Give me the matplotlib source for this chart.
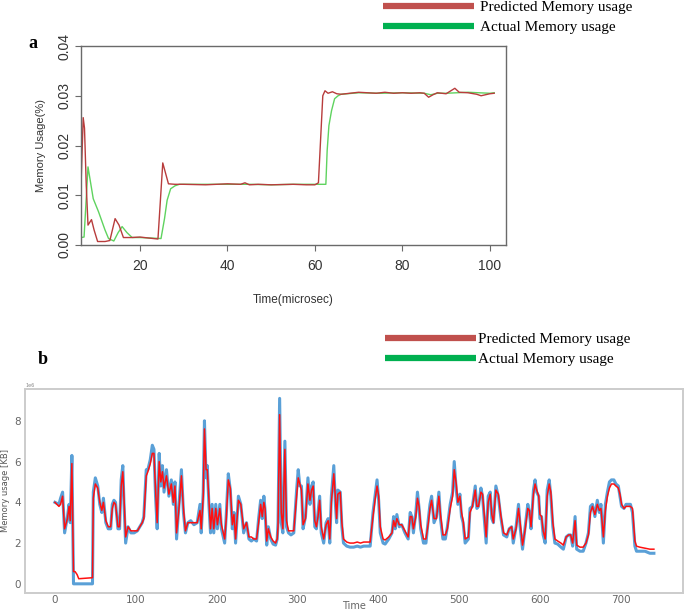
import matplotlib.pyplot as plt
from matplotlib.lines import Line2D

# ---- panel a: memory usage (%) vs time (microsec) ----
t_pred_a = [6.5, 7.0, 7.3, 7.7, 8.1, 8.9, 9.5, 10.3, 12.0, 13.1, 14.3, 15.2, 16.2, 18, 20, 22, 24.1,
            25.2, 26.5, 28, 30, 35, 40, 43, 44, 45, 47, 50, 55, 58, 60, 60.8, 61.8, 62.3, 63, 64, 65,
            66, 68, 70, 72, 74, 76, 78, 80, 82, 84, 85, 86, 87, 88, 90, 92, 93, 95, 97, 98, 100, 101]
pred_a = [0.0117, 0.0256, 0.0235, 0.012, 0.0040, 0.0051, 0.0030, 0.0007, 0.0007, 0.0009, 0.0053,
          0.0040, 0.0015, 0.0015, 0.0016, 0.0014, 0.0012, 0.0165, 0.0123, 0.0122, 0.0122, 0.0121,
          0.0123, 0.0122, 0.0125, 0.0121, 0.0122, 0.0121, 0.0122, 0.0121, 0.0121, 0.0125, 0.0300,
          0.0310, 0.0305, 0.0308, 0.0304, 0.0303, 0.0305, 0.0307, 0.0306, 0.0305, 0.0307, 0.0305,
          0.0306, 0.0305, 0.0306, 0.0305, 0.0297, 0.0302, 0.0306, 0.0304, 0.0315, 0.0307, 0.0306,
          0.0303, 0.0300, 0.0304, 0.0305]

t_act_a = [6.5, 7.2, 8.1, 9.3, 10.5, 12, 12.8, 14, 15, 15.9, 17, 18.2, 20, 24.8, 25.6, 26.2, 27,
           28, 29, 35, 40, 45, 50, 55, 60, 62.5, 62.8, 63.2, 63.8, 64.5, 65.3, 66, 70, 75, 80, 85,
           86.5, 88, 90, 95, 100, 101]
act_a = [0.0015, 0.0016, 0.0157, 0.0093, 0.0067, 0.0030, 0.0013, 0.0008, 0.0025, 0.0037, 0.0025,
         0.0015, 0.0015, 0.0013, 0.0053, 0.0090, 0.0113, 0.0119, 0.0122, 0.0122, 0.0122, 0.0122,
         0.0121, 0.0122, 0.0122, 0.0122, 0.0190, 0.0240, 0.0270, 0.0294, 0.0300, 0.0303, 0.0306,
         0.0305, 0.0306, 0.0305, 0.0302, 0.0305, 0.0305, 0.0307, 0.0305, 0.0306]

# ---- panel b: memory usage [KB] (x1e6) vs time ----
t_b = [0, 5, 7, 9.5, 12, 15.5, 17.5, 19, 21, 23, 25, 27.5, 29.5, 46.5, 47.5, 50, 53, 55.5, 58, 60,
       63, 66, 69, 71, 73, 75, 78, 80, 82, 84, 85.5, 87.5, 90.5, 94, 98, 102, 105, 108, 110, 113,
       115, 118, 120.5, 122.5, 124.5, 126.5, 129, 131, 133, 135, 138, 141, 144, 146.5, 148.5,
       150.5, 153.5, 156.5, 159, 161.5, 164.5, 168, 172, 176, 179.5, 181, 183.5, 185, 187, 188.5,
       190.5, 192.5, 194.5, 196.5, 199, 201, 204, 206, 210, 212, 214.5, 217, 219.5, 221.5, 223.5,
       227, 230, 233.5, 237, 240, 243, 246, 249.5, 252, 254.5, 256.5, 258.5, 260, 262, 264, 267,
       270, 273, 275, 276, 278, 280, 282, 284.5, 286.5, 289, 292, 295.5, 299, 301, 303, 305, 307,
       310, 313, 315.5, 317.5, 319.5, 321.5, 323.5, 325.5, 327.5, 329.5, 332.5, 335.5, 338, 340,
       342, 345, 347, 348.5, 350, 353, 355, 357, 361, 365, 369.5, 374, 378, 382, 386, 390, 393.5,
       396, 398.5, 400.5, 402.5, 406, 408.5, 413, 417, 419, 421, 423, 426, 429, 433, 437, 439.5,
       441.5, 443.5, 446.5, 448.5, 450.5, 452.5, 456, 459, 462, 464, 466, 469, 472, 475, 477, 480,
       483, 485.5, 489, 492, 494, 496.5, 498.5, 501, 503, 505, 507.5, 511.5, 513.5, 516.5, 520,
       522, 524, 527, 529, 531.5, 533.5, 536, 538.5, 540.5, 542.5, 545.5, 548.5, 551.5, 555, 559,
       562, 565, 567, 570.5, 573.5, 575.5, 578.5, 581.5, 585, 587, 589, 592, 594, 596, 598.5, 600,
       602, 604, 606.5, 609, 611.5, 613.5, 616, 618.5, 622, 626, 629, 632.5, 635.5, 638, 640.5,
       643.5, 645.5, 649.5, 653.5, 657, 660, 662.5, 665, 668, 671, 673.5, 675.5, 678.5, 681,
       683.5, 686, 688.5, 691.5, 694, 697, 699, 701, 704, 706.5, 709.5, 712, 714.5, 717.5, 719.5,
       723.5, 730, 736, 741]
actual_b = [4.0, 3.9, 4.2, 4.5, 2.5, 3.3, 3.9, 3.0, 6.3, 0.0, 0.0, 0.0, 0.0, 0.0, 4.5, 5.2, 4.8, 3.9,
            3.5, 4.2, 3.0, 2.7, 2.7, 3.9, 4.1, 4.0, 2.7, 2.7, 5.1, 5.8, 3.9, 2.0, 2.8, 2.5, 2.5, 2.6,
            2.8, 3.0, 3.3, 5.6, 5.6, 6.1, 6.8, 6.6, 4.3, 2.7, 6.4, 4.8, 5.8, 4.5, 5.6, 4.3, 5.1, 3.9,
            5.0, 2.2, 3.9, 5.6, 3.5, 2.5, 3.0, 3.1, 2.9, 3.0, 3.9, 2.5, 4.5, 8.0, 5.2, 5.8, 3.9, 2.5,
            3.9, 2.5, 3.9, 2.7, 3.9, 2.7, 2.0, 3.4, 5.4, 4.6, 2.7, 3.5, 2.0, 4.3, 3.9, 2.5, 3.0, 2.2,
            2.1, 2.2, 2.1, 3.2, 4.1, 3.2, 4.3, 3.6, 1.9, 2.8, 2.2, 1.95, 1.9, 2.2, 3.0, 9.1, 3.0, 2.5,
            7.0, 2.8, 2.5, 2.4, 2.5, 4.6, 5.6, 4.8, 4.8, 2.7, 3.3, 5.2, 3.9, 4.8, 5.0, 2.8, 2.7, 3.5,
            4.3, 2.5, 2.0, 3.0, 3.2, 2.0, 4.3, 5.8, 3.9, 3.0, 4.6, 4.5, 2.8, 2.0, 1.85, 1.8, 1.8, 1.85,
            1.8, 1.85, 1.85, 1.85, 3.5, 4.3, 5.1, 4.1, 2.5, 2.0, 1.95, 2.2, 2.5, 3.3, 2.7, 3.4, 2.8,
            2.9, 2.5, 2.2, 3.5, 3.3, 2.5, 3.5, 4.5, 3.7, 2.7, 2.0, 2.0, 3.2, 3.9, 4.3, 3.0, 3.3, 4.5,
            3.2, 2.2, 2.2, 2.8, 3.9, 4.5, 6.0, 4.6, 3.9, 4.4, 3.3, 3.0, 2.0, 2.2, 3.7, 3.8, 4.8, 3.7,
            3.8, 4.7, 4.3, 3.0, 2.0, 4.3, 4.5, 3.2, 3.0, 4.8, 4.3, 3.3, 2.4, 2.3, 2.7, 2.8, 2.0, 2.8,
            3.9, 2.8, 1.7, 2.7, 3.9, 3.5, 2.7, 4.6, 5.1, 4.5, 4.3, 3.2, 3.3, 2.4, 2.0, 4.6, 5.1, 4.3,
            2.8, 2.0, 1.95, 1.8, 1.7, 2.3, 2.4, 2.4, 1.85, 3.3, 1.7, 1.6, 1.6, 2.0, 2.5, 3.8, 3.9, 3.3,
            4.1, 3.5, 3.9, 2.0, 3.9, 4.5, 5.0, 5.1, 5.1, 4.9, 4.8, 4.3, 3.8, 3.7, 3.9, 3.9, 3.9, 3.5,
            1.85, 1.6, 1.6, 1.6, 1.5, 1.5]
pred_b = [4.0, 3.8, 3.9, 4.3, 2.7, 3.2, 3.8, 3.1, 5.9, 0.6, 0.6, 0.45, 0.25, 0.3, 4.2, 4.9, 4.7, 4.0,
          3.6, 4.0, 3.1, 2.8, 2.8, 3.7, 4.0, 3.9, 2.8, 2.8, 4.8, 5.5, 4.2, 2.3, 2.8, 2.6, 2.6, 2.6,
          2.8, 3.0, 3.2, 5.3, 5.5, 5.9, 6.4, 6.4, 4.6, 3.0, 6.0, 5.0, 5.5, 4.7, 5.3, 4.4, 4.9, 4.0,
          4.8, 2.5, 3.7, 5.3, 3.7, 2.6, 3.0, 3.0, 3.0, 3.0, 3.6, 2.7, 4.3, 7.6, 5.6, 5.6, 4.1, 2.7,
          3.7, 2.7, 3.7, 2.9, 3.7, 2.9, 2.2, 3.2, 5.1, 4.7, 2.9, 3.4, 2.2, 4.1, 3.9, 2.7, 3.0, 2.3,
          2.3, 2.2, 2.2, 3.0, 3.9, 3.3, 4.0, 3.7, 2.1, 2.7, 2.3, 2.1, 2.0, 2.2, 2.8, 8.3, 3.5, 2.7,
          6.6, 3.1, 2.6, 2.6, 2.6, 4.3, 5.2, 4.9, 4.6, 2.9, 3.2, 4.9, 4.1, 4.6, 4.8, 3.1, 2.8, 3.3,
          4.1, 2.8, 2.2, 2.9, 3.1, 2.2, 4.0, 5.4, 4.2, 3.2, 4.4, 4.5, 3.0, 2.2, 2.05, 2.0, 2.0, 2.05,
          2.0, 2.05, 2.05, 2.05, 3.3, 4.1, 4.8, 4.3, 2.8, 2.2, 2.15, 2.3, 2.5, 3.1, 2.8, 3.2, 2.9,
          2.9, 2.6, 2.3, 3.3, 3.3, 2.7, 3.3, 4.2, 3.8, 2.9, 2.2, 2.2, 3.0, 3.7, 4.1, 3.2, 3.2, 4.3,
          3.4, 2.4, 2.4, 2.7, 3.7, 4.3, 5.6, 4.9, 4.0, 4.3, 3.5, 3.1, 2.2, 2.3, 3.5, 3.8, 4.6, 3.8,
          3.8, 4.5, 4.4, 3.2, 2.3, 4.0, 4.4, 3.4, 3.0, 4.6, 4.4, 3.4, 2.5, 2.4, 2.7, 2.8, 2.2, 2.7,
          3.7, 3.0, 1.9, 2.6, 3.7, 3.6, 2.8, 4.4, 4.9, 4.6, 4.3, 3.4, 3.3, 2.6, 2.2, 4.3, 4.9, 4.5,
          3.0, 2.2, 2.1, 2.0, 1.9, 2.3, 2.4, 2.4, 2.0, 3.1, 1.9, 1.8, 1.8, 2.0, 2.4, 3.5, 3.8, 3.4,
          3.9, 3.6, 3.7, 2.3, 3.6, 4.3, 4.7, 4.9, 4.9, 4.8, 4.7, 4.4, 3.9, 3.7, 3.8, 3.8, 3.8, 3.7,
          2.1, 1.85, 1.8, 1.75, 1.7, 1.7]

fig = plt.figure(figsize=(6.85, 6.11), dpi=100)
W, H = 685.0, 611.0

def fx(px):
    return px / W

def fy(py):
    return 1 - py / H

# legend bars + labels (drawn in figure coords, like the pasted-in key of the source)
legend_red = '#c0504d'
legend_green = '#00b050'
serif = ['Liberation Serif', 'DejaVu Serif']
for y_red, y_green, x0, x1, xt in [(6, 26, 383, 474, 480), (338, 358, 385, 476, 478)]:
    fig.add_artist(Line2D([fx(x0), fx(x1)], [fy(y_red)] * 2, color=legend_red, lw=4.5,
                          solid_capstyle='butt'))
    fig.add_artist(Line2D([fx(x0), fx(x1)], [fy(y_green)] * 2, color=legend_green, lw=4.5,
                          solid_capstyle='butt'))
    fig.text(fx(xt), fy(y_red + 1.5), 'Predicted Memory usage', family=serif, fontsize=11,
             va='center', ha='left')
    fig.text(fx(xt), fy(y_green + 1), 'Actual Memory usage', family=serif, fontsize=11,
             va='center', ha='left')

fig.text(fx(33), fy(44), 'a', family=serif, fontsize=13, fontweight='bold', va='center', ha='center')
fig.text(fx(43), fy(359), 'b', family=serif, fontsize=13, fontweight='bold', va='center', ha='center')

# ---- panel a ----
sans = ['Liberation Sans', 'DejaVu Sans']
ax1 = fig.add_axes([fx(81), fy(245), fx(506 - 81), (245 - 46) / H])
ax1.plot(t_act_a, act_a, color='#5fd35f', lw=1.0)
ax1.plot(t_pred_a, pred_a, color='#b83c3c', lw=1.0)
ax1.set_xlim(6.5, 103.7)
ax1.set_ylim(0, 0.04)
ax1.set_xticks([20, 40, 60, 80, 100])
ax1.set_yticks([0.0, 0.01, 0.02, 0.03, 0.04])
ax1.set_yticklabels(['0.00', '0.01', '0.02', '0.03', '0.04'], rotation=90, va='center')
for s in ax1.spines.values():
    s.set_color('#6a6a6a')
    s.set_linewidth(1.0)
ax1.tick_params(direction='out', length=4, width=0.8, color='#6a6a6a', labelcolor='#333333',
                labelsize=10)
ax1.tick_params(axis='x', pad=6)
ax1.tick_params(axis='y', pad=3)
for lab in ax1.get_xticklabels() + ax1.get_yticklabels():
    lab.set_family(sans)
ax1.set_xlabel('Time(microsec)', family=sans, fontsize=8.5, color='#333333', labelpad=15)
ax1.set_ylabel('Memory Usage(%)', family=sans, fontsize=8, color='#333333', labelpad=8)

# ---- panel b ----
ax2 = fig.add_axes([fx(25), fy(593), fx(683 - 25), (593 - 389) / H])
ax2.plot(t_b, actual_b, color='#3d8fd1', lw=2.2, alpha=0.85)
ax2.plot(t_b, pred_b, color='#ff1010', lw=1.1)
ax2.set_xlim(-37, 777)
ax2.set_ylim(-0.45, 9.56)
ax2.set_xticks([0, 100, 200, 300, 400, 500, 600, 700])
ax2.set_yticks([0, 2, 4, 6, 8])
for s in ax2.spines.values():
    s.set_color('#cccccc')
    s.set_linewidth(1.4)
ax2.tick_params(length=0, labelsize=7.5, labelcolor='#666666')
ax2.tick_params(axis='x', pad=1.5)
ax2.tick_params(axis='y', pad=3)
ax2.set_xlabel('Time', fontsize=7, color='#666666', labelpad=-3)
ax2.set_ylabel('Memory usage [KB]', fontsize=6, color='#555555', labelpad=3)
ax2.text(0.0, 1.005, '1e6', transform=ax2.transAxes, fontsize=3.5, color='#888888',
         va='bottom', ha='left')

fig.savefig('out.png', dpi=100)
